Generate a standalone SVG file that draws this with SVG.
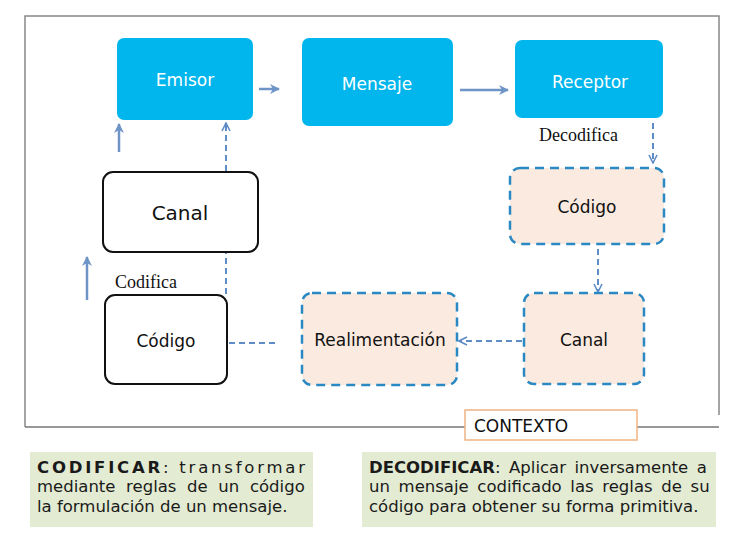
<svg xmlns="http://www.w3.org/2000/svg" width="743" height="550" viewBox="0 0 743 550">
<style>
.blue{fill:#00b6ec}
.wt{fill:#fff;font-family:"DejaVu Sans",sans-serif;font-size:17px;text-anchor:middle}
.bk{fill:#111;font-family:"DejaVu Sans",sans-serif;text-anchor:middle}
.wbox{fill:#fff;stroke:#111;stroke-width:2}
.dbox{fill:#fbeadf;stroke:#2a88c2;stroke-width:2.5;stroke-dasharray:9 6}
.sa{stroke:#6e93c6;stroke-width:2.5;fill:none}
.da{stroke:#5f8cc6;stroke-width:2;fill:none;stroke-dasharray:6 4}
.serif{font-family:"Liberation Serif",serif;font-size:18px;fill:#111}
.note{fill:#e3ebd3}
.nt{font-family:"DejaVu Sans",sans-serif;font-size:16.5px;fill:#1a1a1a}
</style>
<defs>
<marker id="ah" viewBox="0 0 10 10" refX="9" refY="5" markerWidth="4" markerHeight="4" orient="auto" markerUnits="strokeWidth">
<path d="M0,0 L10,5 L0,10 L3,5 Z" fill="#6e93c6"/>
</marker>
<marker id="oh" viewBox="0 0 10 10" refX="9" refY="5" markerWidth="5" markerHeight="5" orient="auto" markerUnits="strokeWidth">
<path d="M1,1 L9,5 L1,9" fill="none" stroke="#5f8cc6" stroke-width="1.6"/>
</marker>
</defs>
<rect width="743" height="550" fill="#fff"/>
<g id="frame">
<path d="M25,427 V16 H719 V415" fill="none" stroke="#888" stroke-width="1.5"/>
<path d="M25,427 H465 M637,427 H719" fill="none" stroke="#777" stroke-width="1.5"/>
</g>
<g id="connectors">
<line class="sa" x1="259" y1="89" x2="279" y2="89" marker-end="url(#ah)"/>
<line class="sa" x1="460" y1="90" x2="508" y2="90" marker-end="url(#ah)"/>
<line class="da" x1="653" y1="123" x2="653" y2="163" marker-end="url(#oh)"/>
<line class="da" x1="598" y1="249" x2="598" y2="292" stroke="#2a88c2" marker-end="url(#oh)"/>
<line class="da" x1="522" y1="341" x2="459" y2="341" marker-end="url(#oh)"/>
<line class="da" x1="275" y1="343" x2="229" y2="343"/>
<line class="da" x1="226" y1="294" x2="226" y2="253"/>
<line class="da" x1="226" y1="171" x2="226" y2="123" marker-end="url(#oh)"/>
<line class="sa" x1="119" y1="152" x2="119" y2="124" marker-end="url(#ah)"/>
<line class="sa" x1="87" y1="300" x2="87" y2="257" marker-end="url(#ah)"/>
</g>
<g id="emisor"><rect class="blue" x="117" y="38" width="136" height="82" rx="7"/><text class="wt" x="185" y="86">Emisor</text></g>
<g id="mensaje"><rect class="blue" x="302" y="38" width="151" height="88" rx="7"/><text class="wt" x="377" y="90">Mensaje</text></g>
<g id="receptor"><rect class="blue" x="515" y="40" width="148" height="78" rx="7"/><text class="wt" x="590" y="88">Receptor</text></g>
<g id="decodifica"><text class="serif" x="539" y="141">Decodifica</text></g>
<g id="codigo-r"><rect class="dbox" x="510" y="168" width="154" height="76" rx="10"/><text class="bk" x="587" y="213" font-size="17">Código</text></g>
<g id="canal-r"><rect class="dbox" x="524" y="293" width="120" height="91" rx="10"/><text class="bk" x="584" y="346" font-size="17">Canal</text></g>
<g id="realimentacion"><rect class="dbox" x="302" y="293" width="155" height="92" rx="10"/><text class="bk" x="380" y="346" font-size="17">Realimentación</text></g>
<g id="canal-l"><rect class="wbox" x="103" y="172" width="155" height="80" rx="10"/><text class="bk" x="180" y="220" font-size="20">Canal</text></g>
<g id="codifica"><text class="serif" x="115" y="288">Codifica</text></g>
<g id="codigo-l"><rect class="wbox" x="105" y="295" width="122" height="89" rx="10"/><text class="bk" x="166" y="347" font-size="17">Código</text></g>
<g id="contexto"><rect x="465" y="410" width="172" height="30" fill="#fff" stroke="#f0b482" stroke-width="1.5"/><text x="474" y="432" font-family="DejaVu Sans,sans-serif" font-size="17" fill="#111">CONTEXTO</text></g>
<g id="nota-codificar">
<rect class="note" x="30" y="452" width="283" height="75"/>
<text class="nt" x="37" y="473" textLength="268" lengthAdjust="spacing"><tspan font-weight="bold">CODIFICAR</tspan>: transformar</text>
<text class="nt" x="37" y="492" word-spacing="5.4">mediante reglas de un código</text>
<text class="nt" x="37" y="512">la formulación de un mensaje.</text>
</g>
<g id="nota-decodificar">
<rect class="note" x="362" y="452" width="354" height="75"/>
<text class="nt" x="369" y="473" word-spacing="3.3"><tspan font-weight="bold">DECODIFICAR</tspan>: Aplicar inversamente a</text>
<text class="nt" x="369" y="492" word-spacing="3.4">un mensaje codificado las reglas de su</text>
<text class="nt" x="369" y="512">código para obtener su forma primitiva.</text>
</g>
</svg>
